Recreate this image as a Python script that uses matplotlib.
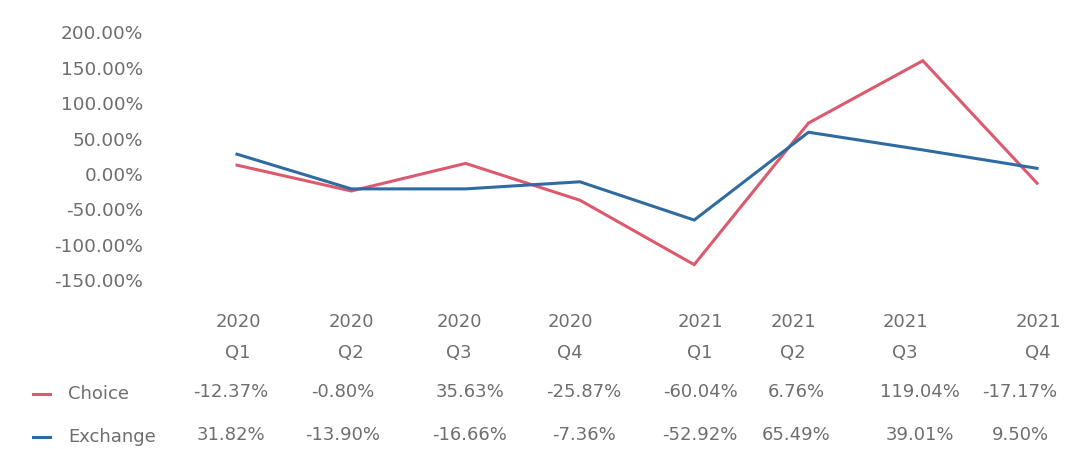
import numpy as np
import matplotlib.pyplot as plt

# quarterly series
years = ["2020", "2020", "2020", "2020", "2021", "2021", "2021", "2021"]
quarters = ["Q1", "Q2", "Q3", "Q4", "Q1", "Q2", "Q3", "Q4"]
choice_line = [12.5, -24, 15, -37, -128, 72, 160, -13]
exchange_line = [28, -21, -21, -11, -65, 59, 34, 8]
choice_table = [-12.37, -0.80, 35.63, -25.87, -60.04, 6.76, 119.04, -17.17]
exchange_table = [31.82, -13.90, -16.66, -7.36, -52.92, 65.49, 39.01, 9.50]
yticks = [200, 150, 100, 50, 0, -50, -100, -150]

red = "#dc5a6e"
blue = "#2f6ba0"
grey = "#6e6e6e"

plt.rcParams['font.family'] = ['DejaVu Sans']

W, H = 1067, 449
fig = plt.figure(figsize=(W / 100, H / 100), dpi=100)
ax = fig.add_axes([200 / W, 1 - 290 / H, 860 / W, 270 / H])

x = np.arange(len(quarters))
ax.plot(x, choice_line, color=red, lw=2.2, solid_joinstyle="miter")
ax.plot(x, exchange_line, color=blue, lw=2.2, solid_joinstyle="miter")

step = 114.3
ax.set_xlim((200 - 237) / step, (1060 - 237) / step)
ax.set_ylim(-163.8, 217.5)
ax.set_xticks([])
ax.set_yticks(yticks)
ax.set_yticklabels(["%.2f%%" % v for v in yticks], color=grey, fontsize=13.3)
ax.tick_params(axis="y", length=0, pad=41)
for s in ax.spines.values():
    s.set_visible(False)

# data table under the plot (column centres in pixels)
head_px = [238, 351, 459, 570, 700, 793, 905, 1038]
val_px = [231, 343, 470, 584, 700, 796, 920, 1020]
fs = 13
for i in range(len(quarters)):
    for txt, cx, ypx in [(years[i], head_px[i], 322),
                         (quarters[i], head_px[i], 353),
                         ("%.2f%%" % choice_table[i], val_px[i], 392),
                         ("%.2f%%" % exchange_table[i], val_px[i], 435)]:
        fig.text(cx / W, 1 - ypx / H, txt, ha="center", va="center",
                 color=grey, fontsize=fs)

# row labels with legend keys
for name, col, ypx in [("Choice", red, 394), ("Exchange", blue, 437)]:
    yf = 1 - ypx / H
    fig.add_artist(plt.Line2D([33 / W, 50 / W], [yf, yf], color=col, lw=2.2,
                              transform=fig.transFigure))
    fig.text(68 / W, yf, name, ha="left", va="center", color=grey, fontsize=fs)

fig.savefig("out.png", dpi=100)
